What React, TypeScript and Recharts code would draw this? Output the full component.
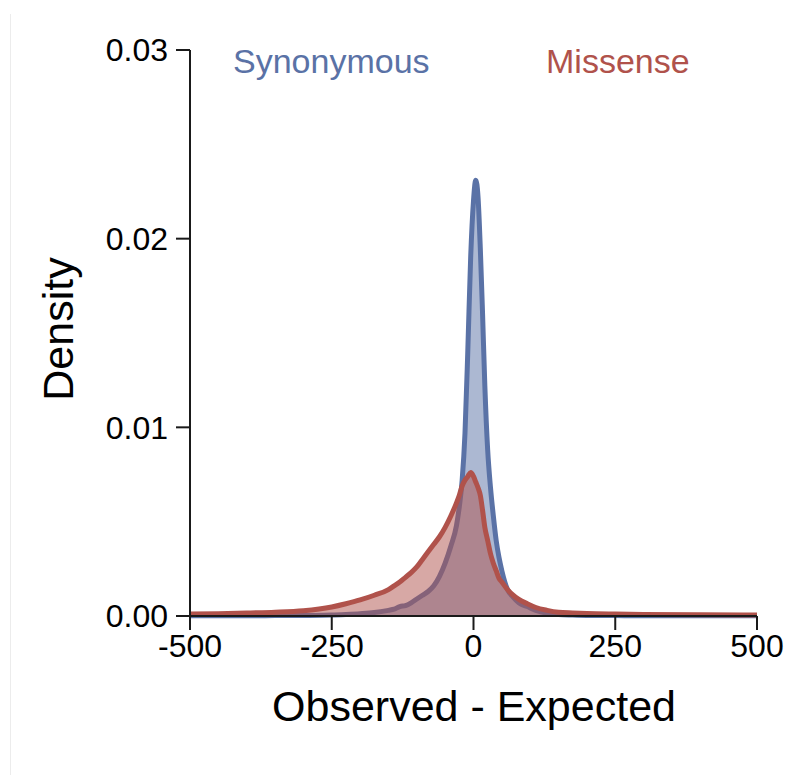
import { AreaChart, Area, XAxis, YAxis, Label } from "recharts";

// x grid (Observed - Expected)
const xs = [
  -500, -450, -400, -350, -300, -250, -225, -200, -175, -150, -140, -130, -120, -110, -100, -90,
  -80, -70, -60, -50, -40, -30, -25, -20, -15, -10, -5, 0, 4, 8, 12, 16, 20, 25, 30, 35, 40, 45,
  50, 60, 70, 80, 95, 110, 130, 150, 175, 200, 250, 300, 400, 500,
];

const synonymous = [
  0.00001, 0.00001, 0.00001, 0.00002, 0.00003, 0.00005, 0.00008, 0.00012, 0.00018, 0.0003,
  0.00036, 0.0005, 0.00055, 0.0007, 0.0009, 0.0011, 0.0013, 0.0016, 0.0021, 0.0028, 0.0037,
  0.0048, 0.0058, 0.0072, 0.0097, 0.0141, 0.019, 0.022, 0.0231, 0.0222, 0.0195, 0.016, 0.0122,
  0.0088, 0.0068, 0.0053, 0.004, 0.0031, 0.0024, 0.0014, 0.001, 0.0007, 0.0005, 0.0003, 0.00015,
  0.00008, 0.00005, 0.00003, 0.00002, 0.00001, 0.00001, 0.00001,
];

const missense = [
  0.0001, 0.00012, 0.00016, 0.0002, 0.00028, 0.00048, 0.00065, 0.00085, 0.0011, 0.0014, 0.0016,
  0.0018, 0.00205, 0.0023, 0.0026, 0.003, 0.0034, 0.0038, 0.0042, 0.0047, 0.0053, 0.006, 0.0064,
  0.0069, 0.0072, 0.0074, 0.0076, 0.0074, 0.0071, 0.0068, 0.0064, 0.0056, 0.0047, 0.004, 0.0033,
  0.0028, 0.0024, 0.002, 0.0018, 0.0014, 0.0011, 0.00088, 0.00065, 0.00045, 0.0003, 0.0002,
  0.00016, 0.00013, 0.0001, 0.00008, 0.00006, 0.00005,
];

const xTicks = [-500, -250, 0, 250, 500];
const yTicks = [0, 0.01, 0.02, 0.03];

const data = xs.map((x, i) => ({ x, syn: synonymous[i], mis: missense[i] }));

const FONT = "'Liberation Sans', Arial, Helvetica, sans-serif";
const BLUE = "#5a72a6";
const RED = "#b0524b";
const AXIS = "#1a1a1a";

const App = () => {
  return (
    <div
      style={{
        position: "fixed",
        left: 0,
        top: 0,
        width: 786,
        height: 775,
        fontFamily: FONT,
        background: "#fff",
      }}
    >
      <style>{"html, body { overflow: hidden; } .recharts-surface { overflow: visible; }"}</style>
      <div
        style={{ position: "absolute", left: 10, top: 14, width: 1, height: 761, background: "#ececec" }}
      />
      <AreaChart
        width={786}
        height={775}
        data={data}
        margin={{ top: 50, right: 29, bottom: 99, left: 100 }}
      >
        <XAxis
          dataKey="x"
          type="number"
          domain={[-500, 500]}
          ticks={xTicks}
          allowDataOverflow
          axisLine={{ stroke: AXIS, strokeWidth: 2 }}
          tickLine={{ stroke: AXIS, strokeWidth: 2 }}
          tickSize={14}
          tickMargin={4}
          height={60}
          tick={{ fontSize: 32, fill: "#000", fontFamily: FONT }}
        >
          <Label
            content={() => (
              <text x={474} y={721} textAnchor="middle" fontSize={43} fill="#000" fontFamily={FONT}>
                Observed - Expected
              </text>
            )}
          />
        </XAxis>
        <YAxis
          type="number"
          domain={[0, 0.03]}
          ticks={yTicks}
          tickFormatter={(v: number) => v.toFixed(2)}
          axisLine={{ stroke: AXIS, strokeWidth: 2 }}
          tickLine={{ stroke: AXIS, strokeWidth: 2 }}
          tickSize={14}
          tickMargin={8}
          width={90}
          tick={{ fontSize: 32, fill: "#000", fontFamily: FONT }}
        >
          <Label
            content={() => (
              <text
                x={73}
                y={329}
                textAnchor="middle"
                fontSize={43}
                fill="#000"
                fontFamily={FONT}
                transform="rotate(-90, 73, 329)"
              >
                Density
              </text>
            )}
          />
        </YAxis>
        <Area
          type="monotone"
          dataKey="syn"
          stroke={BLUE}
          strokeWidth={5}
          fill={BLUE}
          fillOpacity={0.5}
          dot={false}
          activeDot={false}
          isAnimationActive={false}
        />
        <Area
          type="monotone"
          dataKey="mis"
          stroke={RED}
          strokeWidth={5}
          fill={RED}
          fillOpacity={0.5}
          dot={false}
          activeDot={false}
          isAnimationActive={false}
        />
      </AreaChart>
      <div
        style={{
          position: "absolute",
          left: 233,
          top: 41,
          fontSize: 34,
          lineHeight: "40px",
          color: BLUE,
        }}
      >
        Synonymous
      </div>
      <div
        style={{
          position: "absolute",
          left: 546,
          top: 41,
          fontSize: 34,
          lineHeight: "40px",
          color: RED,
        }}
      >
        Missense
      </div>
    </div>
  );
};

export default App;
